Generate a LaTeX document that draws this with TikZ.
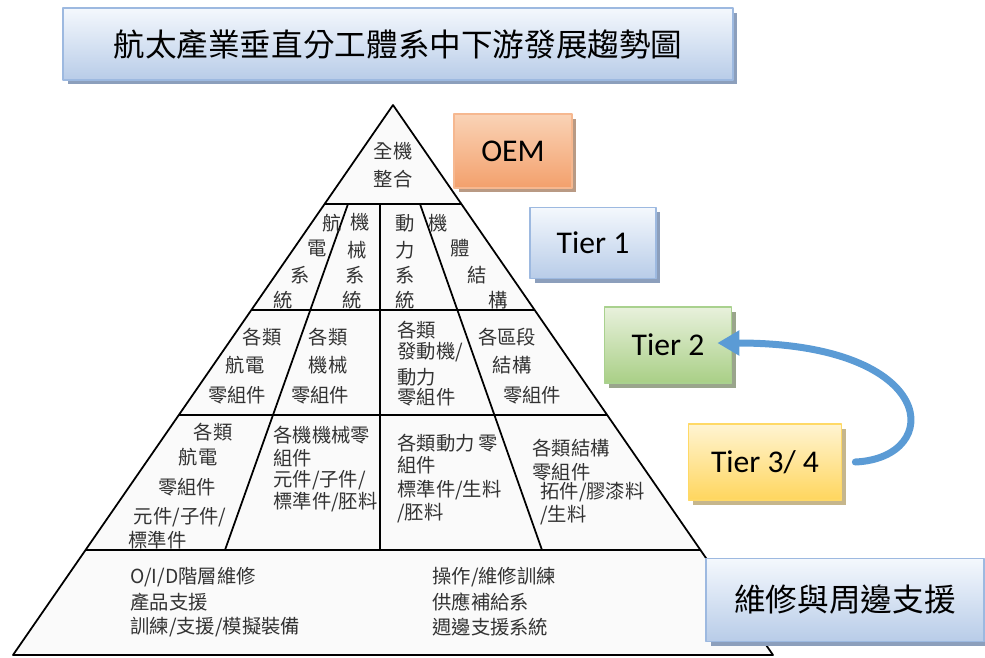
\documentclass[tikz,border=0pt]{standalone}
\usepackage{fontspec}
\setmainfont{Noto Sans CJK TC}
\newfontfamily\tierfont{Carlito}
\usetikzlibrary{arrows.meta,shadows}
\definecolor{bluetop}{HTML}{F4F8FD}
\definecolor{bluebot}{HTML}{B8CCE8}
\definecolor{blueline}{HTML}{9DB9E0}
\definecolor{blueshade}{HTML}{8C9FBC}
\definecolor{orangetop}{HTML}{FAD3B6}
\definecolor{orangebot}{HTML}{F3A06C}
\definecolor{orangeline}{HTML}{F6B890}
\definecolor{orangeshade}{HTML}{B99A84}
\definecolor{greentop}{HTML}{E8F1DC}
\definecolor{greenbot}{HTML}{A9CF86}
\definecolor{greenline}{HTML}{A9D18E}
\definecolor{greenshade}{HTML}{9AA58C}
\definecolor{yellowtop}{HTML}{FFF4D2}
\definecolor{yellowbot}{HTML}{FFD65E}
\definecolor{yellowline}{HTML}{FFD966}
\definecolor{yellowshade}{HTML}{C6B68C}
\definecolor{arrowblue}{HTML}{5B9BD5}
\tikzset{
  tierbox/.style n args={4}{draw=#1,line width=1pt,top color=#2,bottom color=#3,
    drop shadow={fill=#4,opacity=1,shadow xshift=0.09cm,shadow yshift=-0.09cm},
    inner sep=0pt},
  txt/.style={font=\fontsize{11}{13}\selectfont,text=black!80,inner sep=0pt}
}
\begin{document}
\begin{tikzpicture}[x=0.02cm,y=0.02cm,line join=round,line cap=round]
\useasboundingbox (0,0) rectangle (985,-657);
% pyramid
\draw[line width=1pt,fill=gray!4] (393,-105)--(13,-655)--(773,-655)--cycle;
\draw[line width=1pt]
(325,-204)--(461,-204)
(252,-310)--(534,-310)
(179,-415)--(607,-415)
(86,-550)--(700,-550)
(348,-204)--(225,-550)
(420,-204)--(542,-550)
(380,-204)--(380,-550)
;
% texts, centred
\node[txt,align=center] (top) at (393,-165) {全機\\[3pt]整合};
\foreach \t/\x/\y [count=\i] in {
 航/332/223, 電/317/248, 系/300/275, 統/283/300,
 機/360/222, 械/357/250, 系/355/275, 統/352/300,
 動/405/223, 力/405/250, 系/405/275, 統/405/300,
 機/438/223, 體/460/248, 結/477/275, 構/498/300,
 各類/262/337, 航電/245/365, 零組件/237/395,
 各類/328/337, 機械/328/365, 零組件/320/395,
 各區段/507/337, 結構/512/365, 零組件/532/395,
 各類/213/432, 航電/198/457, 零組件/187/487, {元件/子件/}/180/517}
 \node[txt] (c\i) at (\x,-\y) {\t};
% texts, left aligned
\foreach \t/\x/\y [count=\i] in {
 各類/397/330, {發動機/}/397/352, 動力/397/377, 零組件/397/397,
 各機機械零/273/435, 組件/273/458, {元件/子件/}/273/480, {標準件/胚料}/273/502,
 各類動力 零/397/443, 組件/397/465, {標準件/生料}/397/490, {/胚料}/397/513,
 各類結構/532/448, 零組件/532/472, {拓件/膠漆料}/540/492, {/生料}/540/515,
 標準件/128/540,
 {O/I/D階層維修}/130/577, 產品支援/130/602, {訓練/支援/模擬裝備}/130/627,
 {操作/維修訓練}/432/577, 供應補給系/432/602, 週邊支援系統/432/627}
 \node[txt,anchor=west] (l\i) at (\x,-\y) {\t};
% boxes
\node[tierbox={blueline}{bluetop}{bluebot}{blueshade},minimum width=13.4cm,minimum height=1.44cm,
  font=\fontsize{18}{20}\selectfont] (title) at (398,-44) {航太產業垂直分工體系中下游發展趨勢圖};
\node[tierbox={orangeline}{orangetop}{orangebot}{orangeshade},minimum width=2.36cm,minimum height=1.48cm,
  font=\tierfont\fontsize{18}{20}\selectfont] (oem) at (513,-151) {OEM};
\node[tierbox={blueline}{bluetop}{bluebot}{blueshade},minimum width=2.52cm,minimum height=1.42cm,
  font=\tierfont\fontsize{18}{20}\selectfont] (t1) at (593,-243) {Tier 1};
\node[tierbox={greenline}{greentop}{greenbot}{greenshade},minimum width=2.54cm,minimum height=1.52cm,
  font=\tierfont\fontsize{18}{20}\selectfont] (t2) at (668,-345) {Tier 2};
\node[tierbox={yellowline}{yellowtop}{yellowbot}{yellowshade},minimum width=3.06cm,minimum height=1.52cm,
  font=\tierfont\fontsize{18}{20}\selectfont] (t34) at (765,-462) {Tier 3/ 4};
\node[tierbox={blueline}{bluetop}{bluebot}{blueshade},minimum width=5.56cm,minimum height=1.66cm,
  font=\fontsize{18}{20}\selectfont] (mro) at (845,-600) {維修與周邊支援};
% arrow
\draw[-{Triangle[length=0.44cm,width=0.48cm]},line width=0.14cm,arrowblue]
([xshift=0.26cm]t34.east) .. controls (945,-458) and (940,-343) .. ([xshift=-0.3cm,yshift=0.04cm]t2.east);
\end{tikzpicture}
\end{document}
